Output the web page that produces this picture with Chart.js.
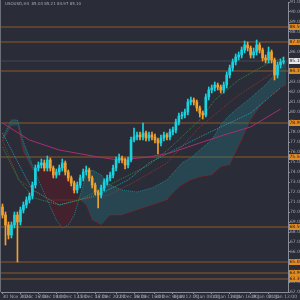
<!DOCTYPE html>
<html>
<head>
<meta charset="utf-8">
<script src="https://cdn.jsdelivr.net/npm/chart.js@4"></script>
<style>
  html, body { margin: 0; padding: 0; background: #2a2c38; }
  #wrap { width: 300px; height: 300px; position: relative; }
</style>
</head>
<body>
<div id="wrap"><canvas id="canvas"></canvas></div>
<script>
// candles (H4), index = bar number
const opens = [70.5,69.7,68.7,67.7,68.7,69.7,69.0,70.2,70.7,71.2,
  71.6,72.7,74.4,74.7,74.9,74.4,75.2,74.4,73.7,74.0,
  74.4,74.9,74.0,73.4,72.9,72.2,72.7,73.4,74.0,74.2,
  73.4,72.7,72.0,71.7,72.4,73.0,73.4,73.7,74.4,75.2,
  75.4,75.2,74.7,75.2,77.2,77.5,77.7,77.5,77.9,77.4,
  77.7,77.5,77.2,76.9,77.4,77.7,77.5,78.0,78.2,79.0,
  79.6,79.7,80.0,81.0,81.2,81.0,80.4,79.9,79.7,81.5,
  82.2,82.4,82.7,82.5,82.2,82.7,83.7,84.4,85.0,85.5,
  85.7,86.2,86.7,86.4,85.7,86.0,86.7,86.2,85.4,85.2,
  86.0,85.2,83.7,84.7,85.0];
const highs = [70.8,70.0,69.0,69.0,70.0,70.0,70.5,71.0,71.5,71.9,
  73.0,74.7,75.0,75.3,75.2,75.6,75.4,74.6,74.3,74.7,
  75.3,75.1,74.2,73.6,73.1,73.0,73.7,74.3,74.6,74.4,
  73.6,72.9,72.2,72.7,73.3,73.7,74.0,74.7,75.5,75.8,
  75.6,75.4,75.5,77.5,78.4,78.0,78.0,78.9,78.1,78.0,
  78.0,77.8,77.4,77.7,78.0,77.9,78.3,78.5,79.3,79.9,
  80.0,80.3,81.3,81.5,81.4,81.2,80.6,80.1,81.8,82.5,
  82.7,83.0,82.9,82.7,83.0,84.0,84.7,85.3,85.8,86.0,
  86.5,87.1,87.0,86.6,86.4,87.2,86.9,86.4,85.7,86.5,
  86.2,85.4,85.0,85.3,85.5];
const lows = [69.4,66.7,67.3,67.4,68.4,65.0,68.7,69.9,70.4,70.9,
  71.3,72.4,74.1,74.4,74.1,74.1,74.1,73.4,73.4,73.7,
  74.1,73.7,73.1,72.6,71.9,71.9,72.4,73.1,73.7,73.1,
  72.4,71.7,70.4,71.4,72.1,72.7,73.1,73.4,74.1,74.9,
  74.9,74.3,74.4,75.0,77.0,77.2,77.2,77.2,77.1,77.1,
  77.2,76.9,75.8,76.6,77.1,77.2,77.2,77.7,77.9,78.7,
  79.3,79.4,79.7,80.7,80.7,80.1,79.5,79.3,79.5,81.2,
  81.9,82.1,82.2,81.9,81.9,82.4,83.4,84.1,84.7,85.2,
  85.4,85.9,86.1,85.4,85.4,85.7,85.9,85.1,84.9,84.9,
  84.9,83.2,83.4,84.4,84.8];
const closes = [69.7,68.7,67.7,68.7,69.7,69.0,70.2,70.7,71.2,71.6,
  72.7,74.4,74.7,74.9,74.4,75.2,74.4,73.7,74.0,74.4,
  74.9,74.0,73.4,72.9,72.2,72.7,73.4,74.0,74.2,73.4,
  72.7,72.0,71.7,72.4,73.0,73.4,73.7,74.4,75.2,75.4,
  75.2,74.7,75.2,77.2,77.5,77.7,77.5,77.9,77.4,77.7,
  77.5,77.2,76.9,77.4,77.7,77.5,78.0,78.2,79.0,79.6,
  79.7,80.0,81.0,81.2,81.0,80.4,79.9,79.7,81.5,82.2,
  82.4,82.7,82.5,82.2,82.7,83.7,84.4,85.0,85.5,85.7,
  86.2,86.7,86.4,85.7,86.0,86.7,86.2,85.4,85.2,86.0,
  85.2,83.7,84.7,85.0,85.1];

// indicator lines, sampled as [bar, price]
const maSlow = [[0,78.9],[9,77.2],[19,76.2],[32,75.5],[39,75.2],[49,75.5],[56,75.9],[66,76.9],[74,77.7],[83,78.5],[93,80.3]];
const greenLine = [[0,76.5],[5.5,73.2],[10.6,71.4],[19,70.7],[25.7,71.2],[32.4,72.2],[39,73.2],[49,74.7],[56,76.4],[66,79.2],[71,81.2],[79,83.2],[89,84.9],[94,85.4]];
const cyanLine = [[0,77.9],[10,72.2],[19,70.7],[32,71.7],[42,73.2],[49,74.9],[66,77.5],[83,79.9],[93,82.4]];
const brownLine = [[0,77.2],[5.5,73.2],[15.6,71.2],[25.7,71.2],[35.7,71.7],[43.5,72.9],[55,74.9],[66,78.5],[79,81.7],[93,84.4]];

// cloud
const cloudBars = [0,3,5,7,10,12,15,18,20,22,24,26,28,30,33,36,40,45,50,55,58,60,63,66,70,73,76,80,83,86,88,90,93,95];
const spanA = [77.4,79.2,79.2,77.0,74.7,73.2,71.2,69.2,68.4,68.7,69.7,71.7,73.7,74.2,73.7,72.7,72.2,72.0,72.4,73.2,74.2,74.9,75.4,76.2,77.2,78.7,79.7,80.7,81.4,82.2,82.7,83.4,84.4,85.0];
const spanB = [77.0,78.6,78.7,76.0,74.2,74.2,74.7,74.2,73.7,73.2,71.7,71.2,70.7,69.2,68.7,69.7,69.7,70.2,70.7,71.2,72.2,72.7,73.2,73.5,73.7,74.5,74.7,77.2,79.2,80.5,81.2,81.7,82.4,82.7];

// horizontal levels
const levels = [88.5, 87.0, 84.1, 78.9, 75.5, 68.5, 65.0, 63.9, 63.3];
const bidPrice = 85.1;

const yTicks = [62,63,64,65,66,67,68,69,70,71,72,73,74,75,76,77,78,79,80,81,82,83,84,85,86,87,88,89,90,91];
const xTickBars = [0,6,12,18,25,31,38,44,51,57,64,70,76,83,89];
const xTickLabels = ["30 Nov 2021","3 Dec 16:00","7 Dec 08:00","10 Dec 12:00","15 Dec 16:00","17 Dec 20:00","22 Dec 16:00","28 Dec 16:00","30 Dec 08:00","4 Jan 12:00","7 Jan 08:00","11 Jan 12:00","14 Jan 16:00","19 Jan 08:00","21 Jan 12:00"];
const title = "USOUSD,H4  85.03 85.21 84.97 85.10";

const upColor = "#19d3e0";
const downColor = "#f0a030";
const bg = "#2a2c38";

const colors = closes.map((c, i) => (c >= opens[i] ? upColor : downColor));
const pts = (arr) => arr.map(([x, y]) => ({ x, y }));

const levelSets = levels.map((l) => ({
  type: "line",
  data: [{ x: -0.5, y: l }, { x: 95.5, y: l }],
  borderColor: "#8e5a26",
  borderWidth: 1,
  pointRadius: 0,
  order: 8,
}));

const chromePlugin = {
  id: "chrome",
  beforeDraw(chart) {
    const { ctx } = chart;
    ctx.save();
    ctx.fillStyle = bg;
    ctx.fillRect(0, 0, chart.width, chart.height);
    ctx.fillStyle = "#6c6e78";
    ctx.fillRect(0, 0, 1, chart.chartArea.bottom);
    ctx.restore();
  },
  afterDraw(chart) {
    const { ctx } = chart;
    const y = chart.scales.y;
    const right = chart.chartArea.right;
    ctx.save();
    ctx.font = "4.5px 'DejaVu Sans'";
    ctx.textBaseline = "middle";
    levels.forEach((l) => {
      const py = y.getPixelForValue(l);
      ctx.fillStyle = "#e08a24";
      ctx.fillRect(right + 1, py - 3, 11, 6);
      ctx.fillStyle = "#1e1e1e";
      ctx.fillText(l.toFixed(2), right + 1.5, py);
    });
    const by = y.getPixelForValue(bidPrice);
    ctx.fillStyle = "#e8e8ec";
    ctx.fillRect(right + 1, by - 3, 11, 6);
    ctx.fillStyle = "#1e1e1e";
    ctx.fillText(bidPrice.toFixed(2), right + 1.5, by);
    ctx.fillStyle = "#a8aab2";
    ctx.font = "4px 'DejaVu Sans'";
    ctx.textBaseline = "top";
    ctx.fillText(title, 5, 2);
    ctx.restore();
  },
};

const ctx = document.getElementById("canvas").getContext("2d");

new Chart(ctx, {
  type: "bar",
  data: {
    datasets: [
      {
        label: "body",
        data: closes.map((c, i) => ({ x: i, y: [opens[i], c] })),
        backgroundColor: colors,
        barThickness: 2,
        grouped: false,
        order: 0,
      },
      {
        label: "wick",
        data: closes.map((c, i) => ({ x: i, y: [lows[i], highs[i]] })),
        backgroundColor: colors,
        barThickness: 1,
        grouped: false,
        order: 1,
      },
      {
        type: "line",
        data: pts(maSlow),
        borderColor: "#a82e72",
        borderWidth: 1,
        pointRadius: 0,
        order: 3,
      },
      {
        type: "line",
        data: pts(greenLine),
        borderColor: "#2f8a3a",
        borderWidth: 1,
        borderDash: [1, 1],
        pointRadius: 0,
        order: 3,
      },
      {
        type: "line",
        data: pts(brownLine),
        borderColor: "#8a3a2a",
        borderWidth: 1,
        borderDash: [1, 1],
        pointRadius: 0,
        order: 3,
      },
      {
        type: "line",
        data: pts(cyanLine),
        borderColor: "#2a9aa8",
        borderWidth: 1,
        borderDash: [1, 1],
        pointRadius: 0,
        order: 3,
      },
      {
        type: "line",
        data: cloudBars.map((b, i) => ({ x: b, y: spanA[i] })),
        borderColor: "#237f88",
        borderWidth: 1,
        borderDash: [1, 1],
        pointRadius: 0,
        fill: { target: "+1", above: "rgba(34,120,130,0.35)", below: "rgba(100,22,34,0.45)" },
        order: 6,
      },
      {
        type: "line",
        data: cloudBars.map((b, i) => ({ x: b, y: spanB[i] })),
        borderColor: "#6e1c22",
        borderWidth: 1,
        pointRadius: 0,
        order: 6,
      },
      {
        type: "line",
        data: [{ x: -0.5, y: bidPrice }, { x: 95.5, y: bidPrice }],
        borderColor: "#454754",
        borderWidth: 1,
        pointRadius: 0,
        order: 9,
      },
      ...levelSets,
    ],
  },
  options: {
    responsive: true,
    maintainAspectRatio: false,
    animation: false,
    devicePixelRatio: 1,
    layout: { padding: { left: 1, top: 2, right: 0, bottom: 0 } },
    plugins: { legend: { display: false }, tooltip: { enabled: false } },
    scales: {
      x: {
        type: "linear",
        offset: false,
        min: -0.5,
        max: 95.5,
        grid: { display: true, offset: false, drawOnChartArea: false, tickLength: 2, color: "#8a8c96" },
        border: { display: true, color: "#8a8c96" },
        afterBuildTicks: (s) => { s.ticks = xTickBars.map((v) => ({ value: v })); },
        afterFit: (s) => { s.height = 8; s.paddingLeft = 0; s.paddingRight = 0; },
        ticks: {
          autoSkip: false,
          maxRotation: 0,
          align: "start",
          padding: 0,
          color: "#a0a2ac",
          font: { size: 4.5, family: "DejaVu Sans" },
          callback: (v, i) => xTickLabels[i],
        },
      },
      y: {
        position: "right",
        min: 62,
        max: 91,
        grid: { display: true, drawOnChartArea: false, tickLength: 2, color: "#8a8c96" },
        border: { display: true, color: "#8a8c96" },
        afterBuildTicks: (s) => { s.ticks = yTicks.map((v) => ({ value: v })); },
        afterFit: (s) => { s.width = 12; s.paddingTop = 0; s.paddingBottom = 0; },
        ticks: {
          padding: 0,
          color: "#a0a2ac",
          font: { size: 4.5, family: "DejaVu Sans" },
          callback: (v) => v.toFixed(2),
        },
      },
    },
  },
  plugins: [chromePlugin],
});
</script>
</body>
</html>
